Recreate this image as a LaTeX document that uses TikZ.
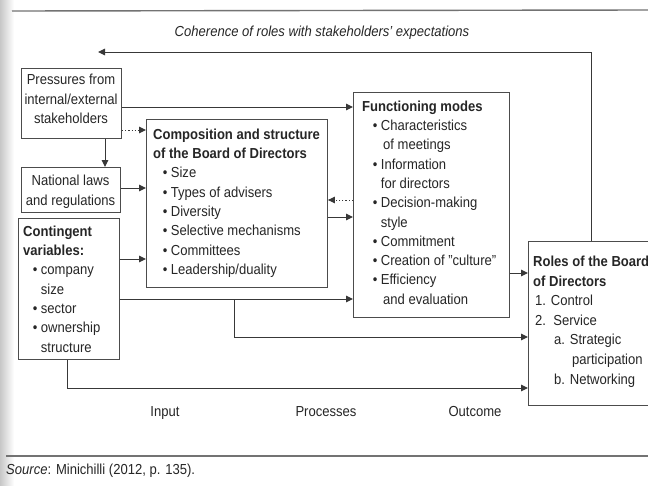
\documentclass[tikz,border=0pt]{standalone}
\usepackage{fontspec}
\setmainfont[FakeStretch=0.9]{Liberation Sans}
\usetikzlibrary{arrows.meta}
% bullet with a given left indent
\newcommand\dotitem[1]{\hspace*{#1}\makebox[8pt][l]{•}}
\begin{document}
\begin{tikzpicture}[x=1pt,y=-1pt,
  ink/.style={black!85},
  box/.style={draw=black!70,line width=0.9pt,rectangle,inner sep=0pt,anchor=north west},
  txt/.style={inner sep=0pt,text=black!85,align=left,anchor=north west,
    font=\fontsize{14.5pt}{19.3pt}\selectfont},
  ctxt/.style={txt,align=center,anchor=north},
  lbl/.style={inner sep=0pt,text=black!85,anchor=base,
    font=\fontsize{14.5pt}{19.3pt}\selectfont},
  link/.style={draw=black!78,line width=1pt},
  arr/.style={link,-{Triangle[length=7pt,width=6.5pt]}},
  dotarr/.style={arr,dash pattern=on 1.3pt off 1.9pt},
  rule/.style={draw=black!55,line width=1.4pt}]
\useasboundingbox (0,0) rectangle (648,485);
\fill[white] (0,0) rectangle (648,485);
\shade[left color=black!22,right color=white] (0,0) rectangle (14,485);

% page rules
\draw[rule] (12,11) -- (648,10);
\draw[rule] (6,456) -- (648,456);

% boxes
\node[box,minimum width=100pt,minimum height=70pt] (press) at (21,68) {};
\node[box,minimum width=99pt,minimum height=45pt] (nat) at (21,167) {};
\node[box,minimum width=101pt,minimum height=141pt] (cont) at (18,218) {};
\node[box,minimum width=181pt,minimum height=168pt] (comp) at (146,119) {};
\node[box,minimum width=156pt,minimum height=225pt] (func) at (353,92) {};
\node[box,minimum width=130pt,minimum height=164pt] (roles) at (528,241) {};

% box texts
\node[ctxt] (presstext) at (71,71) {\strut Pressures from\\internal/external\\stakeholders};
\node[ctxt] (nattext) at (70.5,172) {\strut National laws\\and regulations};
\node[txt] (conttext) at (23,222.5) {\strut\textbf{Contingent}\\
  \textbf{variables:}\\
  \dotitem{9.7pt}company\\
  \hspace*{17.7pt}size\\
  \dotitem{9.7pt}sector\\
  \dotitem{9.7pt}ownership\\
  \hspace*{17.7pt}structure};
\node[txt] (comptext) at (153,125.5) {\strut\textbf{Composition and structure}\\
  \textbf{of the Board of Directors}\\
  \dotitem{9.7pt}Size\\
  \dotitem{9.7pt}Types of advisers\\
  \dotitem{9.7pt}Diversity\\
  \dotitem{9.7pt}Selective mechanisms\\
  \dotitem{9.7pt}Committees\\
  \dotitem{9.7pt}Leadership/duality};
\node[txt] (functext) at (362,97.5) {\strut\textbf{Functioning modes}\\
  \dotitem{10.7pt}Characteristics\\
  \hspace*{21pt}of meetings\\
  \dotitem{10.7pt}Information\\
  \hspace*{18.7pt}for directors\\
  \dotitem{10.7pt}Decision-making\\
  \hspace*{18.7pt}style\\
  \dotitem{10.7pt}Commitment\\
  \dotitem{10.7pt}Creation of "culture"\\
  \dotitem{10.7pt}Efficiency\\
  \hspace*{21pt}and evaluation};
\node[txt,font=\fontsize{14.5pt}{19.6pt}\selectfont] (rolestext) at (533,252.5) {\strut\textbf{Roles of the Board}\\
  \textbf{of Directors}\\
  \hspace*{2pt}1. Control\\
  \hspace*{2pt}2.\ \ Service\\
  \hspace*{21pt}a. Strategic\\
  \hspace*{39pt}participation\\
  \hspace*{21pt}b. Networking};

% feedback loop
\node[lbl] (loop) at (322,36) {\itshape Coherence of roles with stakeholders' expectations};
\coordinate (fb) at (98,52);
\draw[arr] (roles.north -| 591,0) -- (591,52) -- (fb);

% connectors
\draw[arr] (press.east |- 0,107) -- (func.west |- 0,107);
\draw[dotarr] (press.east |- 0,130) -- (comp.west |- 0,130);
\draw[arr] (press.south -| 105,0) -- (nat.north -| 105,0);
\draw[arr] (nat.east |- 0,188) -- (comp.west |- 0,188);
\draw[arr] (cont.east |- 0,259) -- (comp.west |- 0,259);
\draw[dotarr] (func.west |- 0,200) -- (comp.east |- 0,200);
\draw[arr] (comp.east |- 0,217) -- (func.west |- 0,217);
\draw[arr] (func.east |- 0,273) -- (roles.west |- 0,273);
\draw[arr] (cont.east |- 0,299) -- (func.west |- 0,299);
\coordinate (br) at (234,299);
\draw[arr] (br) -- (br |- 0,337) -- (roles.west |- 0,337);
\draw[arr] (cont.south -| 67,0) -- (67,388) -- (roles.west |- 0,388);

% stage labels
\node[lbl] (input) at (165,416) {Input};
\node[lbl] (proc) at (326,416) {Processes};
\node[lbl] (outc) at (475,416) {Outcome};

% source
\node[lbl,anchor=base west] (src) at (6,474) {\textit{Source}: Minichilli (2012, p. 135).};
\end{tikzpicture}
\end{document}
